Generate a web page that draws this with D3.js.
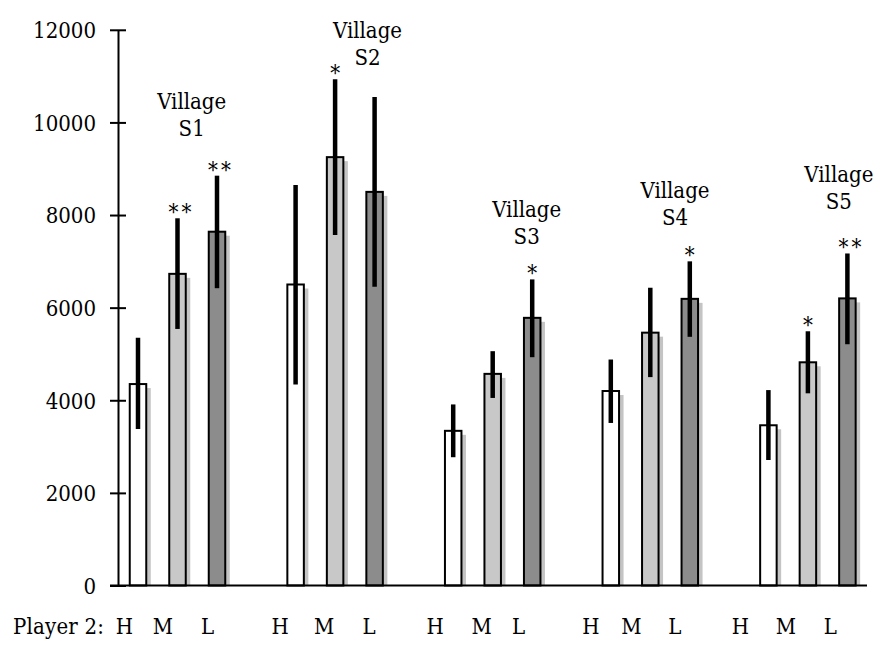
<!DOCTYPE html>
<html>
<head>
<meta charset="utf-8">
<script src="https://cdn.jsdelivr.net/npm/d3@7/dist/d3.min.js"></script>
<style>
  html, body { margin: 0; padding: 0; background: #fff; }
  svg { display: block; }
</style>
</head>
<body>
<svg id="chart" width="887" height="650"></svg>
<script>
// ---------------- DATA ----------------
const villages = ["S1", "S2", "S3", "S4", "S5"];
const player2 = ["H", "M", "L"];
const yTicks = [0, 2000, 4000, 6000, 8000, 10000, 12000];

const meanH = [4350, 6500, 3340, 4200, 3460];
const meanM = [6730, 9250, 4570, 5460, 4820];
const meanL = [7640, 8500, 5780, 6190, 6200];

const lowH = [3380, 4340, 2770, 3510, 2710];
const highH = [5350, 8650, 3910, 4880, 4220];
const lowM = [5540, 7570, 4050, 4500, 4150];
const highM = [7930, 10930, 5060, 6430, 5490];
const lowL = [6420, 6450, 4930, 5370, 5210];
const highL = [8850, 10550, 6610, 7000, 7170];

const sigH = ["", "", "", "", ""];
const sigM = ["**", "*", "", "", "*"];
const sigL = ["**", "", "*", "*", "**"];

const villageLabel = ["Village", "Village", "Village", "Village", "Village"];
const yAxisLabel = "Player 2:";

// ---------------- LAYOUT ----------------
const FONT = "'DejaVu Serif Condensed', 'DejaVu Serif', serif";
const FS = 22;
const svg = d3.select("#chart");
const W = 887, H = 650;
svg.append("rect").attr("width", W).attr("height", H).attr("fill", "#fff");

const y = d3.scaleLinear().domain([0, 12000]).range([585.5, 29.8]);
const x0 = d3.scaleBand().domain(villages).range([98.7, 886.7]).padding(0);
const x1 = d3.scalePoint().domain(player2).range([-39.5, 39.5]);
const barW = 16.5;
const fills = { H: "#ffffff", M: "#c8c8c8", L: "#8c8c8c" };
const center = v => x0(v) + x0.bandwidth() / 2;

const means = { H: meanH, M: meanM, L: meanL };
const lows = { H: lowH, M: lowM, L: lowL };
const highs = { H: highH, M: highM, L: highL };
const sigs = { H: sigH, M: sigM, L: sigL };

const rows = [];
villages.forEach((v, i) => {
  player2.forEach(p => {
    rows.push({ v, p, i, mean: means[p][i], lo: lows[p][i], hi: highs[p][i], sig: sigs[p][i] });
  });
});
const bx = d => center(d.v) + x1(d.p);

// shadows
svg.append("g").selectAll("rect").data(rows).join("rect")
  .attr("x", d => bx(d) - barW / 2 + 4.5)
  .attr("y", d => y(d.mean) + 4)
  .attr("width", barW)
  .attr("height", d => y(0) - y(d.mean) - 4)
  .attr("fill", "#c4c4c4");

// bars
svg.append("g").selectAll("rect").data(rows).join("rect")
  .attr("x", d => bx(d) - barW / 2)
  .attr("y", d => y(d.mean))
  .attr("width", barW)
  .attr("height", d => y(0) - y(d.mean))
  .attr("fill", d => fills[d.p])
  .attr("stroke", "#000")
  .attr("stroke-width", 2);

// error bars
svg.append("g").selectAll("line").data(rows).join("line")
  .attr("x1", d => bx(d)).attr("x2", d => bx(d))
  .attr("y1", d => y(d.lo)).attr("y2", d => y(d.hi))
  .attr("stroke", "#000")
  .attr("stroke-width", 4.5);

// significance stars
svg.append("g").selectAll("text").data(rows.filter(d => d.sig)).join("text")
  .attr("x", d => bx(d) + (d.sig.length > 1 ? 4 : 0))
  .attr("y", d => y(d.hi) + 2)
  .attr("text-anchor", "middle")
  .attr("font-family", FONT)
  .attr("font-size", 22)
  .attr("letter-spacing", d => d.sig.length > 1 ? 3 : 0)
  .attr("fill", "#000")
  .text(d => d.sig);

// village labels (layout placement)
const vLabelDx = [14.2, 32.4, 34, 24.7, 31];
const vLabelY = [10290, 11820, 7950, 8360, 8720];
const vg = svg.append("g").selectAll("text").data(villages).join("text")
  .attr("text-anchor", "middle")
  .attr("font-family", FONT)
  .attr("font-size", FS)
  .attr("fill", "#000")
  .attr("x", (v, i) => center(v) + vLabelDx[i])
  .attr("y", (v, i) => y(vLabelY[i]));
vg.append("tspan").text((v, i) => villageLabel[i]);
vg.append("tspan")
  .attr("x", (v, i) => center(v) + vLabelDx[i])
  .attr("dy", 27)
  .text(v => v);

// y axis
const yAxis = d3.axisLeft(y).tickValues(yTicks).tickFormat(d3.format("d"))
  .tickSizeInner(8).tickSizeOuter(0).tickPadding(14);
const ga = svg.append("g").attr("transform", "translate(118,0)").call(yAxis)
  .attr("font-family", FONT).attr("font-size", FS);
ga.select(".domain").attr("stroke", "#000").attr("stroke-width", 2);
ga.selectAll(".tick line").attr("x1", -8).attr("x2", 8).attr("stroke", "#000").attr("stroke-width", 2);
ga.selectAll(".tick text")
  .attr("dy", "0.36em")
  .attr("fill", "#000");

// x axis baseline
svg.append("line")
  .attr("x1", 110).attr("x2", 867)
  .attr("y1", y(0)).attr("y2", y(0))
  .attr("stroke", "#000").attr("stroke-width", 2);

// bottom category labels
const labelNudge = [[-13.5, -14.5, -9.5], [-15.5, -11, -5.5], [-18, -11, -13.5], [-20, -19, -15], [-28, -22, -17]];
svg.append("g").selectAll("text").data(rows).join("text")
  .attr("x", d => bx(d) + labelNudge[d.i][player2.indexOf(d.p)])
  .attr("y", 634)
  .attr("text-anchor", "middle")
  .attr("font-family", FONT)
  .attr("font-size", FS)
  .attr("fill", "#000")
  .text(d => d.p);

svg.append("text")
  .attr("x", 13).attr("y", 634)
  .attr("font-family", FONT)
  .attr("font-size", FS)
  .attr("fill", "#000")
  .attr("textLength", 91)
  .text(yAxisLabel);
</script>
</body>
</html>
